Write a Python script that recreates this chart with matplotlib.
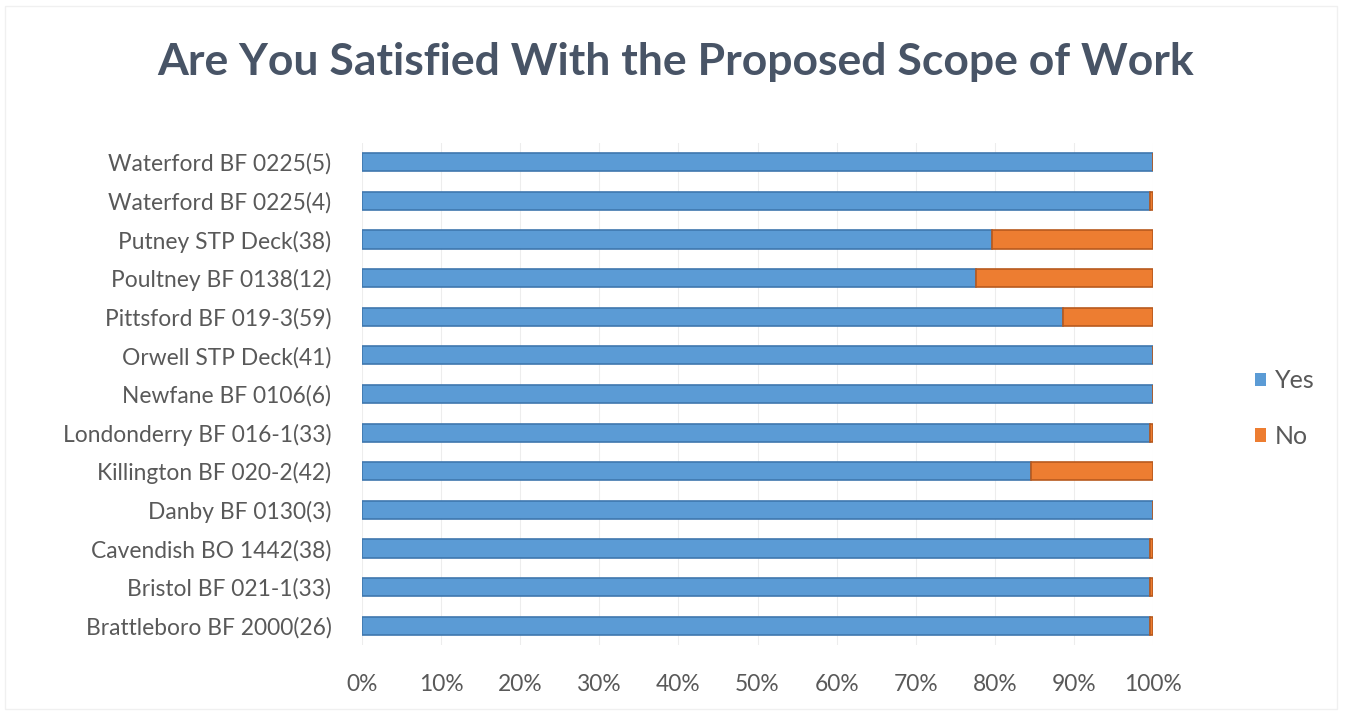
import matplotlib
matplotlib.use("Agg")
import matplotlib.pyplot as plt
from matplotlib.ticker import PercentFormatter

plt.rcParams['font.family'] = ['Lato', 'DejaVu Sans']

# Projects, bottom to top as drawn
projects = [
    "Brattleboro BF 2000(26)",
    "Bristol BF 021-1(33)",
    "Cavendish BO 1442(38)",
    "Danby BF 0130(3)",
    "Killington BF 020-2(42)",
    "Londonderry BF 016-1(33)",
    "Newfane BF 0106(6)",
    "Orwell STP Deck(41)",
    "Pittsford BF 019-3(59)",
    "Poultney BF 0138(12)",
    "Putney STP Deck(38)",
    "Waterford BF 0225(4)",
    "Waterford BF 0225(5)",
]
yes_pct = [99.6, 99.6, 99.6, 100, 84.6, 99.6, 100, 100, 88.6, 77.6, 79.6, 99.6, 100]
no_pct = [100 - v for v in yes_pct]

blue = "#5B9BD5"
orange = "#ED7D31"
text_grey = "#595959"

fig = plt.figure(figsize=(13.45, 7.13), dpi=100)
ax = fig.add_axes([362 / 1345, 1 - 645 / 713, (1153 - 362) / 1345, (645 - 143) / 713])

ypos = range(len(projects))
ax.barh(ypos, yes_pct, height=0.47, color=blue, edgecolor="#3F77AE", linewidth=1.2, label="Yes", zorder=3)
ax.barh(ypos, no_pct, left=yes_pct, height=0.47, color=orange, edgecolor="#B85A1E", linewidth=1.2, label="No", zorder=3)

ax.set_xlim(0, 100)
ax.set_ylim(-0.5, len(projects) - 0.5)
ax.set_xticks(range(0, 101, 10))
ax.xaxis.set_major_formatter(PercentFormatter(decimals=0))
ax.set_yticks(list(ypos))
ax.set_yticklabels(projects)
ax.tick_params(axis='both', length=0, labelsize=16.4, labelcolor=text_grey)
ax.tick_params(axis='x', pad=21)
ax.tick_params(axis='y', pad=22)
ax.grid(axis='x', color="#EDEDED", linewidth=0.8, zorder=0)
for s in ax.spines.values():
    s.set_visible(False)

fig.suptitle("Are You Satisfied With the Proposed Scope of Work", x=0.502, y=0.913,
             fontsize=32, fontweight='bold', color="#485466", va='center')

leg = ax.legend(loc='center left', bbox_to_anchor=(1.1, 0.471), frameon=False,
                fontsize=18, labelcolor=text_grey, handlelength=0.45, handleheight=0.45,
                handletextpad=0.35, labelspacing=1.3)
for h in leg.legend_handles:
    h.set_linewidth(0)

# faint outer border of the chart area
fig.add_artist(plt.Rectangle((0.004, 0.006), 0.99, 0.985, transform=fig.transFigure,
                             fill=False, edgecolor="#F0F0F0", linewidth=1.0))

fig.savefig("out.png", dpi=100, facecolor="white")
